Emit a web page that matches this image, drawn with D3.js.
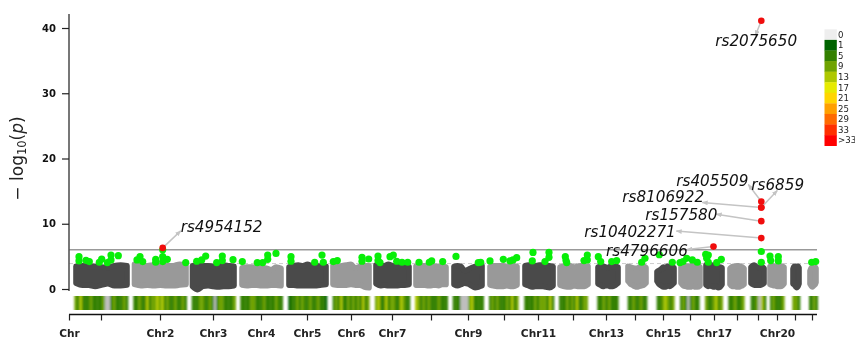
<!DOCTYPE html>
<html><head><meta charset="utf-8">
<script src="https://cdn.jsdelivr.net/npm/d3@7"></script>
<style>html,body{margin:0;padding:0;background:#fff;overflow:hidden}svg{display:block;filter:blur(0.4px)}text{font-family:"DejaVu Sans",sans-serif}</style>
</head><body><svg id="c" width="855" height="340"></svg>
<script>
// ---- data ----
const chromosomes=["1","2","3","4","5","6","7","8","9","10","11","12","13","14","15","16","17","18","19","20","21","22"];
const chromStart=[4,62.5,120.5,170,217,261,304,344,382,418,453,488,526,556,585,609,634,658,679,698,721,738];
const chromEnd=[61,120,168,215,260,303,343,380,416,451,487,522,552,580,608,634,656,678,698,718,733,750];
// upper and lower edge of the dense point cloud, -log10(p), evenly spaced along each chromosome
const cloudTop=[
[3.8,3.9,3.8,3.8,3.7,3.6,3.9,4.0,3.9],[4.1,3.9,3.9,4.0,3.9,3.9,3.9,4.1,3.9],[3.9,4.0,3.9,3.9,3.8,3.9,4.0,3.9,3.8],[3.6,3.7,3.7,3.6,3.6,3.5,3.3,3.7,3.5],
[3.7,3.9,4.0,3.9,4.1,3.9,3.9,3.8,3.8],[3.9,3.8,3.9,4.0,4.1,3.5,3.8,3.9,3.9],[4.0,3.9,3.9,4.1,3.9,3.8,3.9,3.9,3.8],[3.8,3.7,3.9,3.9,3.9,3.8,3.8,3.9,3.7],
[3.8,3.9,3.8,3.1,3.3,3.6,3.8,3.9,3.9],[3.8,3.9,3.9,3.9,3.9,3.7,3.9,3.9,3.8],[3.9,4.0,3.9,3.9,4.0,4.0,3.9,3.9,3.8],[3.7,3.8,3.9,3.9,3.7,3.8,3.9,3.8,3.8],
[3.7,3.8,3.8,3.7,3.6,3.8,3.7,3.8,3.7],[3.8,3.7,3.6,3.5,3.5,3.7,3.8,3.8,3.6],[3.0,3.2,3.4,3.7,3.6,3.8,3.8,3.7,3.6],[3.7,3.9,3.9,3.8,3.9,3.9,3.9,3.9,3.7],
[4.0,3.9,4.0,4.0,3.9,3.8,3.7,3.7,3.6],[3.5,3.7,3.8,3.8,3.9,3.9,3.8,3.7,3.5],[3.7,3.9,4.0,3.8,3.7,3.6,3.7,3.7,3.5],[3.8,3.9,3.9,3.8,3.8,3.9,3.9,3.8,3.7],
[3.4,3.7,3.8,3.8,3.8,3.7,3.7,3.8,3.6],[3.1,3.4,3.6,3.7,3.7,3.6,3.7,3.7,3.5]];
const cloudBottom=[
[0.6,0.3,0.3,0.1,0.3,0.5,0.2,0.2,0.3],[0.4,0.2,0.3,0.2,0.3,0.2,0.2,0.3,0.4],[0.1,-0.4,0.1,0.2,0.1,0.0,0.1,0.1,0.2],[0.3,0.2,0.3,0.3,0.2,0.2,0.3,0.3,0.2],
[0.3,0.3,0.2,0.2,0.2,0.2,0.2,0.3,0.4],[0.4,0.3,0.3,0.3,0.4,0.3,0.3,0.0,-0.1],[0.5,0.2,0.3,0.2,0.2,0.2,0.3,0.3,0.4],[0.3,0.3,0.3,0.2,0.2,0.3,0.2,0.4,0.4],
[0.4,0.2,0.4,0.6,0.5,0.2,-0.1,0.0,0.2],[0.3,0.2,0.1,0.1,0.1,0.2,0.1,0.1,0.3],[0.4,0.2,0.0,0.1,0.1,0.1,0.0,-0.1,0.2],[0.3,0.1,0.0,0.0,0.2,0.1,0.1,0.1,0.4],
[0.5,0.3,0.1,0.2,0.2,0.1,0.1,0.3,0.6],[0.9,0.5,0.3,0.1,0.0,0.1,0.2,0.3,0.6],[0.9,0.4,0.2,0.0,0.0,0.2,0.1,0.3,0.6],[0.6,0.2,0.1,0.0,0.0,0.1,0.0,0.0,0.2],
[0.3,0.1,0.2,0.1,0.0,0.1,-0.1,0.0,0.4],[0.4,0.1,0.1,0.1,0.0,0.0,0.1,0.2,0.4],[0.6,0.4,0.3,0.3,0.3,0.3,0.3,0.4,0.6],[0.4,0.3,0.2,0.2,0.1,0.1,0.1,0.2,0.5],
[0.5,0.4,0.3,0.2,0.0,-0.1,0.0,0.2,0.5],[0.5,0.3,0.1,0.0,0.1,0.2,0.3,0.4,0.7]];
const hitPos=[10,10,17,20.3,30.3,32.7,38.3,42,42,49.3,71,68,73.7,86.7,86.7,93.7,93.7,93.7,98.3,116.7,127.7,132.7,136.7,147.7,153.3,153.3,164,173.3,188.3,193.7,198.7,198.7,207,222,222,245.7,253,254.3,264.3,268.3,293,293,299.7,309,309,311,321,324.3,327.7,333,338.7,350,360.3,362.7,373.7,387,409.3,411.7,421,434.3,441,444,447.7,464,463.3,476,480,480,496.3,497,497.7,515,518.3,518.3,529.3,531.7,542.7,547.7,572.7,576,590.3,603.3,611,614,617.7,623.3,628.3,636.7,639.3,637.7,639.3,647.7,652.3,692.3,692.3,701,701.7,709.3,709.3,742.7,746.7];
const hitVal=[4.95,4.3,4.4,4.2,4.1,4.6,4.05,5.2,4.45,5.1,4.95,4.45,4.2,4.55,4.1,6.0,4.95,4.2,4.55,4.05,4.25,4.45,5.05,4.05,5.05,4.35,4.5,4.2,4.05,4.05,5.2,4.55,5.45,4.95,4.25,4.1,5.2,4.1,4.2,4.35,4.85,4.25,4.6,5.05,4.35,4.05,4.95,5.2,4.25,4.1,4.1,4.1,4.1,4.3,4.2,5.0,4.05,4.1,4.3,4.55,4.3,4.45,4.8,5.6,4.3,4.2,5.6,4.85,4.95,4.35,4.05,4.35,5.2,4.45,4.95,4.2,4.2,4.35,4.1,4.7,5.25,4.1,4.05,4.2,4.7,4.45,4.1,5.3,5.2,4.7,4.1,4.05,4.55,5.75,4.1,5.05,4.35,4.95,4.3,4.1,4.2];
const snpNames=["rs4954152","rs4796606","rs2075650","rs405509","rs6859","rs157580","rs10402271","rs8106922"];
const snpPos=[93.7,644.5,692.3,692.3,692.3,692.3,692.3,692.3];
const snpVal=[6.3,6.5,41.1,13.4,12.5,10.4,7.8,12.5];
const yTicks=[0,10,20,30,40];
const xTickPos=[0,32,91,144,192,238,282,323,362,399,435,469,504,537,566,594,621,645,668,689,708,726,743];
const xTickLabels=["Chr","","Chr2","Chr3","Chr4","Chr5","Chr6","Chr7","","Chr9","","Chr11","","Chr13","","Chr15","","Chr17","","","Chr20","",""];
const legendLabels=["0","1","5","9","13","17","21","25","29","33",">33"];
// SNP density per window along each chromosome
const stripStart=[5.3,64.3,122.7,171.3,219.3,263.7,306,346,383.7,420,455.3,490,528.3,558.7,587.7,611,636,659.3,681.7,701,723.3,740];
const stripEnd=[59,117.7,166.7,213.7,258,300.3,341,378.7,414.7,449.3,485,518.7,549.3,578,605.3,630.3,653.7,675.3,697,715.3,731,748.7];
const density=[
[9,5,13,5,5,5,9,5,5,5,5,9,0,0,5,9,5,5,5,9,5],
[5,5,9,5,5,13,5,9,9,13,9,13,5,9,5,5,9,5,5,9,5],
[5,5,5,9,9,5,5,9,5,0,5,9,9,5,5,5,5,9],
[5,5,5,5,9,9,5,5,5,9,5,5,5,5,9,5,5],
[1,5,5,9,5,9,5,5,9,5,5,9,5,5,1],
[5,9,5,13,5,5,9,5,9,5,9,5,13,5,9],
[9,13,5,5,13,5,9,9,5,5,13,9,5,5],
[13,9,5,9,5,9,5,5,5,9,5,5,5],
[5,5,5,0,0,0,9,13,5,5,5,5],
[5,9,5,9,5,5,5,9,5,13,5,9],
[5,5,5,5,9,5,9,9,9,5,13,5],
[5,5,5,9,5,9,5,13,5,5,9,9],
[5,5,9,5,9,5,5,5],
[5,5,9,5,5,9,5,5],
[5,5,9,13,9,5,9],
[5,9,5,0,5,9,5,5],
[9,5,5,9,13,5,9],
[5,5,9,5,5,9],
[5,5,9,0,13,5],
[5,9,5,5,5,9],
[9,9,5],
[5,5,9,5]];
const legendColors=["#eeeeee","#006400","#338000","#6fa300","#aec800","#e6ea00","#ffd500","#ffa000","#ff6a00","#ff3000","#ff0000"];

// ---- layout (annotation placement, pixels relative to the SNP) ----
const labelDx=[18,-107.5,-46,-85,-10,-116,-177,-139];
const labelDy=[-16,9.5,25,-16,-17.5,-1,-1,-5];
const arrowDx=[18,-26.5,-6,-13,16,-45,-85,-59];
const arrowDy=[-17,3,15,-17,-17,-7,-7,-5];

const svg=d3.select("#c");
const x=d3.scaleLinear().domain([0,748]).range([69,817]);
const y=d3.scaleLinear().domain([0,40]).range([289,28]);
const densityLevels=[0,1,5,9,13,17,21,25,29,33];
const col=d=>d===0?"#bdbdbd":legendColors[densityLevels.indexOf(d)];

const defs=svg.append("defs");
defs.append("filter").attr("id","stripBlur").attr("x","-5%").attr("width","110%").attr("y","-10%").attr("height","120%")
  .append("feGaussianBlur").attr("stdDeviation","0.9 0.35");

// suggestive dashed line
svg.append("line").attr("x1",x(0)).attr("x2",x(748)).attr("y1",y(3.9)).attr("y2",y(3.9))
  .attr("stroke","#ccc").attr("stroke-width",1).attr("stroke-dasharray","4 3");

// point clouds
const cloud=d3.area().x(d=>x(d.p)).y0(d=>y(d.b)).y1(d=>y(d.t)).curve(d3.curveMonotoneX);
chromosomes.forEach((c,i)=>{
  const n=cloudTop[i].length;
  const inset=3;
  const pos=d3.scaleLinear().domain([0,n-1]).range([chromStart[i]+inset,chromEnd[i]-inset]);
  const pts=cloudTop[i].map((t,k)=>({p:pos(k),t:t-0.33,b:cloudBottom[i][k]+0.3}));
  svg.append("path").attr("d",cloud(pts))
    .attr("fill",i%2?"#999999":"#4a4a4a").attr("stroke",i%2?"#999999":"#4a4a4a")
    .attr("stroke-width",5.6).attr("stroke-linejoin","round");
});

// genome-wide threshold
svg.append("line").attr("x1",x(0)).attr("x2",x(748)).attr("y1",y(6)).attr("y2",y(6))
  .attr("stroke","#999").attr("stroke-width",1.5);

// significant-ish points
svg.append("g").selectAll("circle").data(hitPos).join("circle")
  .attr("cx",d=>x(d)).attr("cy",(d,i)=>y(hitVal[i])).attr("r",3.6).attr("fill","#08ee08");

// annotation arrows
const head=defs.append("marker").attr("id","h").attr("viewBox","0 0 10 8")
  .attr("refX",9).attr("refY",4).attr("markerWidth",6).attr("markerHeight",5).attr("orient","auto").attr("markerUnits","userSpaceOnUse");
head.append("path").attr("d","M0,0L10,4L0,8Z").attr("fill","#c4c4c4");
svg.append("g").selectAll("line").data(snpNames).join("line")
  .attr("x1",(d,i)=>x(snpPos[i])).attr("y1",(d,i)=>y(snpVal[i]))
  .attr("x2",(d,i)=>x(snpPos[i])+arrowDx[i]).attr("y2",(d,i)=>y(snpVal[i])+arrowDy[i])
  .attr("stroke","#c4c4c4").attr("stroke-width",1.5).attr("marker-end","url(#h)");

// lead SNPs
svg.append("g").selectAll("circle").data(snpNames).join("circle")
  .attr("cx",(d,i)=>x(snpPos[i])).attr("cy",(d,i)=>y(snpVal[i])).attr("r",3.3).attr("fill","#f00d0d");
svg.append("g").selectAll("text").data(snpNames).join("text")
  .attr("x",(d,i)=>x(snpPos[i])+labelDx[i]).attr("y",(d,i)=>y(snpVal[i])+labelDy[i])
  .attr("font-size",15.2).attr("font-style","italic").attr("fill","#111").text(d=>d);

// density strip
const sg=svg.append("g").attr("filter","url(#stripBlur)");
density.forEach((vals,i)=>{
  const w=d3.scaleLinear().domain([0,vals.length]).range([stripStart[i],stripEnd[i]]);
  sg.selectAll(null).data(vals).join("rect")
    .attr("x",(d,k)=>x(w(k))).attr("width",(d,k)=>x(w(k+1))-x(w(k))+0.3)
    .attr("y",296).attr("height",14).attr("fill",col);
});

// y axis
const ya=svg.append("g").attr("transform","translate(69,0)")
  .call(d3.axisLeft(y).tickValues(yTicks).tickSize(7).tickPadding(6).tickFormat(d3.format("d")));
ya.select(".domain").attr("d","M0,14V291").attr("stroke","#555").attr("stroke-width",1.6);
ya.selectAll(".tick line").attr("stroke","#222").attr("stroke-width",1.2);
ya.selectAll("text").attr("font-size",10).attr("font-weight","bold").attr("font-family","DejaVu Sans").attr("fill","#111");

// x axis
const xa=svg.append("g").attr("transform","translate(0,314.5)")
  .call(d3.axisBottom(x).tickValues(xTickPos).tickSize(6).tickPadding(9).tickFormat((d,i)=>xTickLabels[i]));
xa.select(".domain").attr("d",`M${x(0)},0H${x(748)}`).attr("stroke","#111").attr("stroke-width",1.5);
xa.selectAll(".tick line").attr("stroke","#222").attr("stroke-width",1.2);
xa.selectAll("text").attr("font-size",10.6).attr("font-weight","bold").attr("font-family","DejaVu Sans").attr("fill","#222");

// y title
const t=svg.append("text").attr("transform","translate(23,158.5) rotate(-90)").attr("text-anchor","middle")
  .attr("font-size",17).attr("fill","#222");
t.append("tspan").text("\u2212 log");
t.append("tspan").attr("font-size",11.5).attr("dy",3).text("10");
t.append("tspan").attr("dy",-3).text("(");
t.append("tspan").attr("font-style","italic").text("p");
t.append("tspan").text(")");

// legend
const lg=svg.append("g");
const ly=d3.scaleBand().domain(legendLabels).range([29.3,145.7]);
lg.selectAll("rect").data(legendLabels).join("rect")
  .attr("x",824.5).attr("width",12.3).attr("y",d=>ly(d)).attr("height",ly.bandwidth()+0.3)
  .attr("fill",(d,i)=>legendColors[i]);
lg.selectAll("text").data(legendLabels).join("text")
  .attr("x",838).attr("y",d=>ly(d)+ly.bandwidth()/2+3).attr("font-size",8.6).attr("fill","#222").text(d=>d);
</script></body></html>
